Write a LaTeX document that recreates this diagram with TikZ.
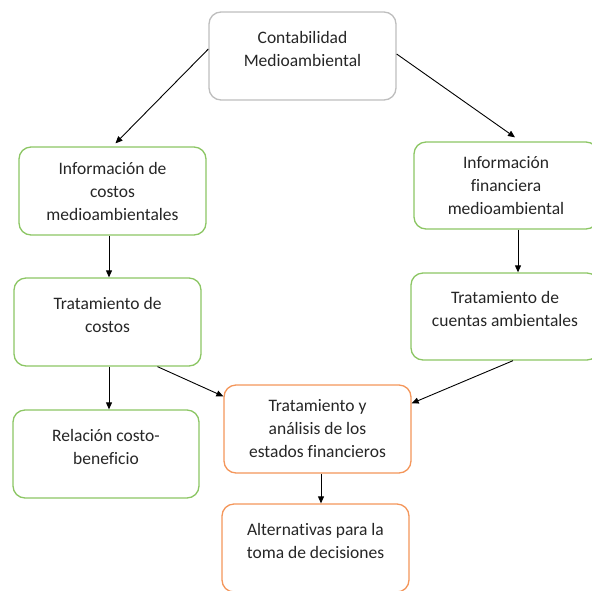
\documentclass[tikz,border=0pt]{standalone}
\usepackage{fontspec}
\setmainfont{Carlito}[Ligatures=NoCommon]
\usetikzlibrary{arrows.meta}

\definecolor{boxgray}{RGB}{190,190,190}
\definecolor{boxgreen}{RGB}{140,198,100}
\definecolor{boxorange}{RGB}{244,150,90}
\definecolor{txtgray}{RGB}{38,38,38}

\tikzset{
  box/.style={draw, line width=1.3pt, rounded corners=12pt, fill=white,
    align=center, text=txtgray, inner sep=0pt,
    font=\fontsize{17.5}{23}\selectfont},
  graybox/.style={box, draw=boxgray},
  greenbox/.style={box, draw=boxgreen},
  orangebox/.style={box, draw=boxorange},
  arr/.style={-{Triangle[length=7pt,width=6pt]}, line width=0.9pt, black}
}

\begin{document}
\begin{tikzpicture}[x=1pt,y=-1pt]
    \useasboundingbox (0,0) rectangle (592,590);

    \node[graybox, minimum width=187pt, minimum height=88pt] (conta) at (302.5,56)
        {Contabilidad\\Medioambiental\\[-8pt]\mbox{}};

    \node[greenbox, minimum width=187pt, minimum height=88pt] (infocost) at (112.5,191)
        {Información de\\costos\\medioambientales};
    \node[greenbox, minimum width=184pt, minimum height=87pt] (infofin) at (506,185.5)
        {Información\\financiera\\medioambiental};

    \node[greenbox, minimum width=187pt, minimum height=88pt] (tratcost) at (107.5,322)
        {Tratamiento de\\costos\\[-8pt]\mbox{}};
    \node[greenbox, minimum width=188pt, minimum height=87pt] (tratcta) at (505,316.5)
        {Tratamiento de\\cuentas ambientales\\[-8pt]\mbox{}};

    \node[greenbox, minimum width=186pt, minimum height=88pt] (relacion) at (106,454)
        {Relación costo-\\beneficio\\[-8pt]\mbox{}};
    \node[orangebox, minimum width=187pt, minimum height=88pt] (tratest) at (317.5,429)
        {Tratamiento y\\análisis de los\\estados financieros};
    \node[orangebox, minimum width=187pt, minimum height=88pt] (altern) at (315.5,548)
        {Alternativas para la\\toma de decisiones\\[-8pt]\mbox{}};

    % connectors
    \draw[arr] ([yshift=7pt]conta.west) -- ([xshift=3pt,yshift=3pt]infocost.north);
    \draw[arr] ([yshift=2pt]conta.east) -- ([xshift=9pt,yshift=4pt]infofin.north);
    \draw[arr] ([xshift=1.5pt]tratcost.north |- infocost.south) -- ([xshift=1.5pt]tratcost.north);
    \draw[arr] ([xshift=12pt]infofin.south) -- ([xshift=12pt]infofin.south |- tratcta.north);
    \draw[arr] ([xshift=1.5pt]tratcost.south) -- ([xshift=3pt]relacion.north);
    \draw[arr] ([xshift=50pt]tratcost.south) -- ([yshift=-12pt]tratest.north west);
    \draw[arr] ([xshift=8pt]tratcta.south) -- ([yshift=-19pt]tratest.north east);
    \draw[arr] ([xshift=3.5pt]tratest.south) -- ([xshift=5.5pt]altern.north);
\end{tikzpicture}
\end{document}
